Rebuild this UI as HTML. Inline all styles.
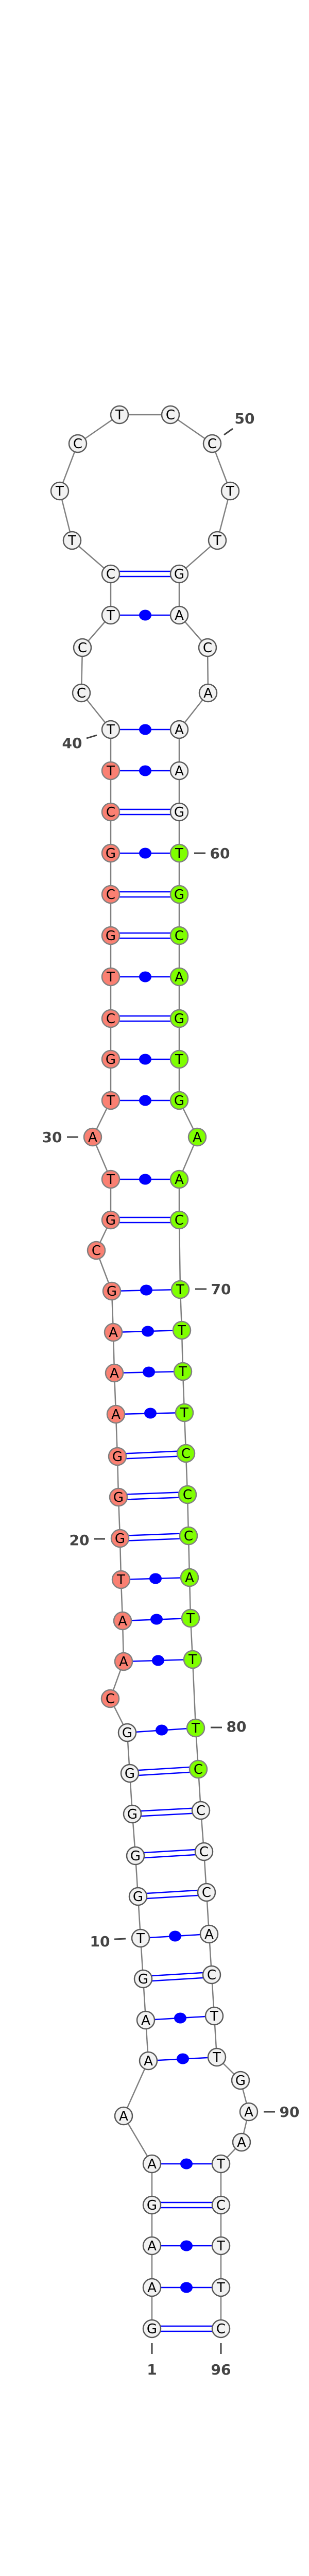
<!DOCTYPE html>
<html><head><meta charset="utf-8"><style>
html,body{margin:0;padding:0;background:#fff;width:600px;height:5342px;overflow:hidden;}
svg{display:block;position:absolute;top:0;left:0;}
.n text{font-family:"DejaVu Sans","Liberation Sans",sans-serif;font-size:26px;text-anchor:middle;fill:#000;}
.lbl{font-family:"DejaVu Sans","Liberation Sans",sans-serif;font-size:28px;font-weight:bold;fill:#444;text-anchor:middle;}
</style></head><body>
<svg width="600" height="5340" viewBox="0 0 600 5340" xmlns="http://www.w3.org/2000/svg">
<polyline fill="none" stroke="#808080" stroke-width="2.5" points="295,4520 295,4440 295,4359 295,4280 295,4200 240,4107 288,4000 283,3921 278,3841 273,3762 268,3681 263,3602 257,3521 252,3442 247,3363 214,3297 240,3225 238,3146 235,3066 233,2986 230,2906 228,2827 225,2745 222,2665 220,2586 217,2506 187,2427 215,2368 215,2289 180,2207 215,2136 215,2056 215,1977 215,1896 215,1816 215,1736 215,1656 215,1576 215,1496 215,1416 158,1345 160,1257 215,1194 215,1114 140,1049 116,953 151,861 232,805 331,805 412,861 447,953 422,1049 348,1114 348,1194 403,1257 404,1345 348,1416 348,1496 348,1576 348,1656 348,1736 348,1816 348,1896 348,1977 348,2056 348,2136 383,2207 348,2289 348,2368 350,2503 353,2582 355,2662 358,2742 361,2821 364,2901 366,2981 368,3062 370,3141 374,3221 380,3354 385,3434 390,3514 396,3594 401,3673 406,3754 411,3833 416,3913 421,3993 467,4038 483,4099 469,4158 429,4200 429,4280 429,4359 429,4440 429,4520"/>
<g stroke="#0000ff" stroke-width="2.5" fill="none">
<path d="M295,4515H429M295,4525H429"/>
<path d="M295,4275H429M295,4285H429"/>
<path d="M278,3836L411,3828M278,3846L411,3838"/>
<path d="M268,3676L401,3668M268,3686L401,3678"/>
<path d="M263,3597L396,3589M263,3607L396,3599"/>
<path d="M257,3516L390,3509M257,3526L390,3519"/>
<path d="M252,3437L385,3429M252,3447L385,3439"/>
<path d="M233,2981L366,2976M233,2991L366,2986"/>
<path d="M230,2901L364,2896M230,2911L364,2906"/>
<path d="M228,2822L361,2816M228,2832L361,2826"/>
<path d="M215,2363H348M215,2373H348"/>
<path d="M215,1972H348M215,1982H348"/>
<path d="M215,1811H348M215,1821H348"/>
<path d="M215,1731H348M215,1741H348"/>
<path d="M215,1571H348M215,1581H348"/>
<path d="M215,1109H348M215,1119H348"/>
</g>
<g stroke="#0000ff" stroke-width="2.5">
<line x1="295" y1="4440" x2="429" y2="4440"/><line x1="295" y1="4359" x2="429" y2="4359"/><line x1="295" y1="4200" x2="429" y2="4200"/>
<line x1="288" y1="4000" x2="421" y2="3993"/><line x1="283" y1="3921" x2="416" y2="3913"/><line x1="273" y1="3762" x2="406" y2="3754"/>
<line x1="247" y1="3363" x2="380" y2="3354"/><line x1="240" y1="3225" x2="374" y2="3221"/><line x1="238" y1="3146" x2="370" y2="3141"/>
<line x1="235" y1="3066" x2="368" y2="3062"/><line x1="225" y1="2745" x2="358" y2="2742"/><line x1="222" y1="2665" x2="355" y2="2662"/>
<line x1="220" y1="2586" x2="353" y2="2582"/><line x1="217" y1="2506" x2="350" y2="2503"/><line x1="215" y1="2289" x2="348" y2="2289"/>
<line x1="215" y1="2136" x2="348" y2="2136"/><line x1="215" y1="2056" x2="348" y2="2056"/><line x1="215" y1="1896" x2="348" y2="1896"/>
<line x1="215" y1="1656" x2="348" y2="1656"/><line x1="215" y1="1496" x2="348" y2="1496"/><line x1="215" y1="1416" x2="348" y2="1416"/>
<line x1="215" y1="1194" x2="348" y2="1194"/>
</g>
<g fill="#0000ff">
<ellipse cx="362" cy="4440" rx="12" ry="10.5"/><ellipse cx="362" cy="4359" rx="12" ry="10.5"/><ellipse cx="362" cy="4200" rx="12" ry="10.5"/>
<ellipse cx="355" cy="3996" rx="12" ry="10.5"/><ellipse cx="350" cy="3917" rx="12" ry="10.5"/><ellipse cx="340" cy="3758" rx="12" ry="10.5"/>
<ellipse cx="314" cy="3358" rx="12" ry="10.5"/><ellipse cx="307" cy="3223" rx="12" ry="10.5"/><ellipse cx="304" cy="3143" rx="12" ry="10.5"/>
<ellipse cx="302" cy="3064" rx="12" ry="10.5"/><ellipse cx="292" cy="2743" rx="12" ry="10.5"/><ellipse cx="289" cy="2663" rx="12" ry="10.5"/>
<ellipse cx="287" cy="2584" rx="12" ry="10.5"/><ellipse cx="284" cy="2504" rx="12" ry="10.5"/><ellipse cx="282" cy="2289" rx="12" ry="10.5"/>
<ellipse cx="282" cy="2136" rx="12" ry="10.5"/><ellipse cx="282" cy="2056" rx="12" ry="10.5"/><ellipse cx="282" cy="1896" rx="12" ry="10.5"/>
<ellipse cx="282" cy="1656" rx="12" ry="10.5"/><ellipse cx="282" cy="1496" rx="12" ry="10.5"/><ellipse cx="282" cy="1416" rx="12" ry="10.5"/>
<ellipse cx="282" cy="1194" rx="12" ry="10.5"/>
</g>
<g class="n" stroke-width="2.5">
<g fill="#f2f2f2" stroke="#5a5a5a">
<circle cx="295" cy="4520" r="17"/><circle cx="295" cy="4440" r="17"/><circle cx="295" cy="4359" r="17"/><circle cx="295" cy="4280" r="17"/><circle cx="295" cy="4200" r="17"/><circle cx="240" cy="4107" r="17"/><circle cx="288" cy="4000" r="17"/><circle cx="283" cy="3921" r="17"/><circle cx="278" cy="3841" r="17"/><circle cx="273" cy="3762" r="17"/><circle cx="268" cy="3681" r="17"/><circle cx="263" cy="3602" r="17"/><circle cx="257" cy="3521" r="17"/><circle cx="252" cy="3442" r="17"/><circle cx="247" cy="3363" r="17"/>
<circle cx="215" cy="1416" r="17"/><circle cx="158" cy="1345" r="17"/><circle cx="160" cy="1257" r="17"/><circle cx="215" cy="1194" r="17"/><circle cx="215" cy="1114" r="17"/><circle cx="140" cy="1049" r="17"/><circle cx="116" cy="953" r="17"/><circle cx="151" cy="861" r="17"/><circle cx="232" cy="805" r="17"/><circle cx="331" cy="805" r="17"/><circle cx="412" cy="861" r="17"/><circle cx="447" cy="953" r="17"/><circle cx="422" cy="1049" r="17"/><circle cx="348" cy="1114" r="17"/><circle cx="348" cy="1194" r="17"/><circle cx="403" cy="1257" r="17"/><circle cx="404" cy="1345" r="17"/><circle cx="348" cy="1416" r="17"/><circle cx="348" cy="1496" r="17"/><circle cx="348" cy="1576" r="17"/>
<circle cx="390" cy="3514" r="17"/><circle cx="396" cy="3594" r="17"/><circle cx="401" cy="3673" r="17"/><circle cx="406" cy="3754" r="17"/><circle cx="411" cy="3833" r="17"/><circle cx="416" cy="3913" r="17"/><circle cx="421" cy="3993" r="17"/><circle cx="467" cy="4038" r="17"/><circle cx="483" cy="4099" r="17"/><circle cx="469" cy="4158" r="17"/><circle cx="429" cy="4200" r="17"/><circle cx="429" cy="4280" r="17"/><circle cx="429" cy="4359" r="17"/><circle cx="429" cy="4440" r="17"/><circle cx="429" cy="4520" r="17"/>
</g>
<g fill="#fa8072" stroke="#808080">
<circle cx="214" cy="3297" r="17"/><circle cx="240" cy="3225" r="17"/><circle cx="238" cy="3146" r="17"/><circle cx="235" cy="3066" r="17"/><circle cx="233" cy="2986" r="17"/><circle cx="230" cy="2906" r="17"/><circle cx="228" cy="2827" r="17"/><circle cx="225" cy="2745" r="17"/><circle cx="222" cy="2665" r="17"/><circle cx="220" cy="2586" r="17"/><circle cx="217" cy="2506" r="17"/><circle cx="187" cy="2427" r="17"/><circle cx="215" cy="2368" r="17"/><circle cx="215" cy="2289" r="17"/><circle cx="180" cy="2207" r="17"/><circle cx="215" cy="2136" r="17"/><circle cx="215" cy="2056" r="17"/><circle cx="215" cy="1977" r="17"/><circle cx="215" cy="1896" r="17"/><circle cx="215" cy="1816" r="17"/><circle cx="215" cy="1736" r="17"/><circle cx="215" cy="1656" r="17"/><circle cx="215" cy="1576" r="17"/><circle cx="215" cy="1496" r="17"/>
</g>
<g fill="#7fff00" stroke="#808080">
<circle cx="348" cy="1656" r="17"/><circle cx="348" cy="1736" r="17"/><circle cx="348" cy="1816" r="17"/><circle cx="348" cy="1896" r="17"/><circle cx="348" cy="1977" r="17"/><circle cx="348" cy="2056" r="17"/><circle cx="348" cy="2136" r="17"/><circle cx="383" cy="2207" r="17"/><circle cx="348" cy="2289" r="17"/><circle cx="348" cy="2368" r="17"/><circle cx="350" cy="2503" r="17"/><circle cx="353" cy="2582" r="17"/><circle cx="355" cy="2662" r="17"/><circle cx="358" cy="2742" r="17"/><circle cx="361" cy="2821" r="17"/><circle cx="364" cy="2901" r="17"/><circle cx="366" cy="2981" r="17"/><circle cx="368" cy="3062" r="17"/><circle cx="370" cy="3141" r="17"/><circle cx="374" cy="3221" r="17"/><circle cx="380" cy="3354" r="17"/><circle cx="385" cy="3434" r="17"/>
</g>
<g>
<text x="295" y="4529">G</text><text x="295" y="4449">A</text><text x="295" y="4368">A</text><text x="295" y="4289">G</text><text x="295" y="4209">A</text><text x="240" y="4116">A</text><text x="288" y="4009">A</text><text x="283" y="3930">A</text><text x="278" y="3850">G</text><text x="273" y="3771">T</text>
<text x="268" y="3690">G</text><text x="263" y="3611">G</text><text x="257" y="3530">G</text><text x="252" y="3451">G</text><text x="247" y="3372">G</text><text x="214" y="3306">C</text><text x="240" y="3234">A</text><text x="238" y="3155">A</text><text x="235" y="3075">T</text><text x="233" y="2995">G</text>
<text x="230" y="2915">G</text><text x="228" y="2836">G</text><text x="225" y="2754">A</text><text x="222" y="2674">A</text><text x="220" y="2595">A</text><text x="217" y="2515">G</text><text x="187" y="2436">C</text><text x="215" y="2377">G</text><text x="215" y="2298">T</text><text x="180" y="2216">A</text>
<text x="215" y="2145">T</text><text x="215" y="2065">G</text><text x="215" y="1986">C</text><text x="215" y="1905">T</text><text x="215" y="1825">G</text><text x="215" y="1745">C</text><text x="215" y="1665">G</text><text x="215" y="1585">C</text><text x="215" y="1505">T</text><text x="215" y="1425">T</text>
<text x="158" y="1354">C</text><text x="160" y="1266">C</text><text x="215" y="1203">T</text><text x="215" y="1123">C</text><text x="140" y="1058">T</text><text x="116" y="962">T</text><text x="151" y="870">C</text><text x="232" y="814">T</text><text x="331" y="814">C</text><text x="412" y="870">C</text>
<text x="447" y="962">T</text><text x="422" y="1058">T</text><text x="348" y="1123">G</text><text x="348" y="1203">A</text><text x="403" y="1266">C</text><text x="404" y="1354">A</text><text x="348" y="1425">A</text><text x="348" y="1505">A</text><text x="348" y="1585">G</text><text x="348" y="1665">T</text>
<text x="348" y="1745">G</text><text x="348" y="1825">C</text><text x="348" y="1905">A</text><text x="348" y="1986">G</text><text x="348" y="2065">T</text><text x="348" y="2145">G</text><text x="383" y="2216">A</text><text x="348" y="2298">A</text><text x="348" y="2377">C</text><text x="350" y="2512">T</text>
<text x="353" y="2591">T</text><text x="355" y="2671">T</text><text x="358" y="2751">T</text><text x="361" y="2830">C</text><text x="364" y="2910">C</text><text x="366" y="2990">C</text><text x="368" y="3071">A</text><text x="370" y="3150">T</text><text x="374" y="3230">T</text><text x="380" y="3363">T</text>
<text x="385" y="3443">C</text><text x="390" y="3523">C</text><text x="396" y="3603">C</text><text x="401" y="3682">C</text><text x="406" y="3763">A</text><text x="411" y="3842">C</text><text x="416" y="3922">T</text><text x="421" y="4002">T</text><text x="467" y="4047">G</text><text x="483" y="4108">A</text>
<text x="469" y="4167">A</text><text x="429" y="4209">T</text><text x="429" y="4289">C</text><text x="429" y="4368">T</text><text x="429" y="4449">T</text><text x="429" y="4529">C</text>
</g>
</g>
<g stroke="#444" stroke-width="3">
<line x1="435" y1="844" x2="452" y2="832"/>
<line x1="168" y1="1433" x2="188" y2="1427"/>
<line x1="377" y1="1656" x2="399" y2="1656"/>
<line x1="130" y1="2207" x2="152" y2="2207"/>
<line x1="379" y1="2502" x2="401" y2="2502"/>
<line x1="183" y1="2987" x2="204" y2="2987"/>
<line x1="409" y1="3353" x2="431" y2="3353"/>
<line x1="222" y1="3764" x2="244" y2="3763"/>
<line x1="512" y1="4099" x2="534" y2="4099"/>
<line x1="295" y1="4548" x2="295" y2="4569"/>
<line x1="429" y1="4548" x2="429" y2="4569"/>
</g>
<g class="lbl">
<text x="475" y="822">50</text>
<text x="140" y="1452">40</text>
<text x="427" y="1666">60</text>
<text x="101" y="2217">30</text>
<text x="429" y="2512">70</text>
<text x="154" y="2999">20</text>
<text x="459" y="3361">80</text>
<text x="194" y="3778">10</text>
<text x="562" y="4109">90</text>
<text x="295" y="4609">1</text>
<text x="429" y="4609">96</text>
</g>
<text x="300" y="5335" font-family="Liberation Sans, sans-serif" font-size="11" font-weight="bold" text-anchor="middle" fill="#000">der_97_annot [-48.0]</text>
</svg>
</body></html>
